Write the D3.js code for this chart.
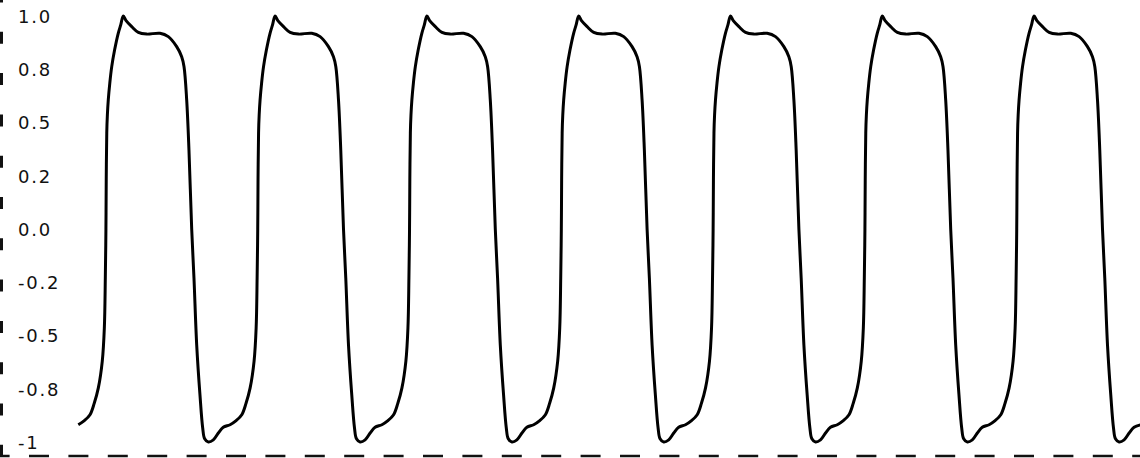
<!DOCTYPE html>
<html>
<head>
<meta charset="utf-8">
<script src="https://cdn.jsdelivr.net/npm/d3@7"></script>
<style>
  html, body { margin: 0; padding: 0; background: #fff; }
  svg { display: block; }
</style>
</head>
<body>
<div id="chart"></div>
<script>
// --- data ---
// every cycle has the same shape; these are the cycle onsets (ms)
const cycleStartMs = [0, 20, 40, 60, 80, 100, 120];
const lastPoint = { t: 140, v: -0.919 };

// one cycle of the wave, time since onset (ms) and amplitude
const cycleTimeMs = [0, 0.75, 1.54, 2.11, 2.64, 3.16, 3.43, 3.56, 3.64, 3.68, 3.75, 3.83, 3.95,
  4.15, 4.40, 4.78, 5.27, 5.59, 5.93, 6.32, 7.04, 7.91, 9.01, 10.76, 11.86, 12.96, 13.62, 13.93,
  14.28, 14.58, 14.94, 15.24, 15.60, 16.03, 16.39, 16.65, 17.13, 17.79, 18.45, 19.10];
const cycleValue = [-0.919, -0.901, -0.872, -0.817, -0.746, -0.620, -0.465, -0.230, 0.0, 0.23, 0.451, 0.535, 0.606,
  0.685, 0.761, 0.840, 0.920, 0.958, 1.0, 0.977, 0.950, 0.923, 0.915, 0.919, 0.903, 0.856, 0.809, 0.762,
  0.606, 0.371, 0.0, -0.230, -0.545, -0.779, -0.934, -0.985, -1.0, -0.99, -0.958, -0.931];

const tickValues = [-1, -0.75, -0.5, -0.25, 0, 0.25, 0.5, 0.75, 1];
const tickLabels = ["-1", "-0.8", "-0.5", "-0.2", "0.0", "0.2", "0.5", "0.8", "1.0"];

const width = 1140, height = 458;

const series = [];
cycleStartMs.forEach(start => {
    cycleTimeMs.forEach((t, i) => series.push({ t: start + t, v: cycleValue[i] }));
});
series.push(lastPoint);

const svg = d3.select("#chart").append("svg")
    .attr("width", width).attr("height", height);

const x = d3.scaleLinear().domain([0, 140]).range([78.3, 1140.9]);
const y = d3.scaleLinear().domain([-1, 1]).range([442, 16]);

// y tick labels only, no tick marks
const yAxis = svg.append("g")
    .call(d3.axisLeft(y).tickValues(tickValues).tickFormat((d, i) => tickLabels[i]).tickSize(0));
yAxis.select(".domain").remove();
yAxis.selectAll("text")
    .attr("x", 18)
    .attr("dy", "0.36em")
    .attr("text-anchor", "start")
    .attr("fill", "#111")
    .style("font-family", "'DejaVu Sans', sans-serif")
    .style("font-size", "18px")
    .style("letter-spacing", "1.8px");

// dashed axis lines
svg.append("line")
    .attr("x1", 1.5).attr("x2", 1.5).attr("y1", 0).attr("y2", 457)
    .attr("stroke", "#111").attr("stroke-width", 3)
    .attr("stroke-dasharray", "12 29.3").attr("stroke-dashoffset", 9.5);
svg.append("line")
    .attr("x1", 0).attr("x2", width).attr("y1", 456).attr("y2", 456)
    .attr("stroke", "#111").attr("stroke-width", 2.5)
    .attr("stroke-dasharray", "20 19.4").attr("stroke-dashoffset", 10.4);

const line = d3.line()
    .x(d => x(d.t))
    .y(d => y(d.v))
    .curve(d3.curveCatmullRom.alpha(0.5));

svg.append("path")
    .datum(series)
    .attr("fill", "none")
    .attr("stroke", "#000")
    .attr("stroke-width", 3)
    .attr("stroke-linejoin", "round")
    .attr("d", line);
</script>
</body>
</html>
